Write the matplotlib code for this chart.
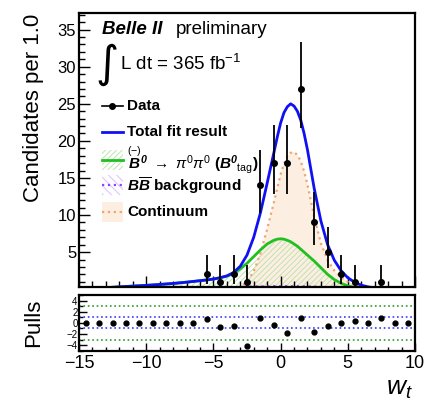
import numpy as np
import matplotlib
matplotlib.use("Agg")
import matplotlib.pyplot as plt
from matplotlib.patches import Rectangle
from matplotlib.ticker import MultipleLocator

plt.rcParams['font.family'] = ['Liberation Sans', 'DejaVu Sans']
plt.rcParams['mathtext.fontset'] = 'custom'
plt.rcParams['mathtext.rm'] = 'Liberation Sans'
plt.rcParams['mathtext.it'] = 'Liberation Sans:italic'
plt.rcParams['mathtext.bf'] = 'Liberation Sans:bold:italic'
plt.rcParams['hatch.linewidth'] = 0.7

# data (non-empty bins only), w_t bin centres
data_x = [-5.5, -4.5, -3.5, -2.5, -1.5, -0.5, 0.5, 1.5, 2.5, 3.5, 4.5, 5.5, 7.5]
data_y = [2, 1, 2, 1, 14, 17, 17, 27, 9, 5, 2, 1, 1]
err_lo = [1.3, 0.8, 1.3, 0.8, 3.7, 4.1, 4.1, 5.2, 3.0, 2.2, 1.3, 0.8, 0.8]
err_hi = [2.6, 2.3, 2.6, 2.3, 4.8, 5.2, 5.2, 6.3, 4.1, 3.4, 2.6, 2.3, 2.3]

# pulls for all 25 bins
pull_x = np.arange(-14.5, 10, 1.0)
pulls = [0, 0, 0, 0, 0, 0, 0, 0, 0, 0.6, -0.7, -0.55, -4.2, 0.95, -0.35,
         -1.9, 0.85, -1.7, -0.55, -0.1, 0.3, 0, 0.85, 0, 0]

# fit components (finer sampling around the peak)
fit_x = [-15, -14.5, -14, -13.5, -13, -12.5, -12, -11.5, -11, -10.5, -10, -9.5,
         -9, -8.5, -8, -7.5, -7, -6.5, -6, -5.5, -5, -4.5, -4, -3.5,
         -3, -2.5, -2, -1.5, -1, -0.5, -0.25, 0, 0.25, 0.5, 0.75, 1, 1.25, 1.5,
         1.75, 2, 2.5, 3, 3.5, 4, 4.5, 5, 5.5, 6, 6.5, 7, 7.5, 8, 8.5, 9, 9.5, 10]
total = [0.12, 0.14, 0.16, 0.19, 0.22, 0.26, 0.32, 0.37, 0.42, 0.47, 0.52, 0.58,
         0.64, 0.71, 0.78, 0.86, 0.95, 1.05, 1.15, 1.25, 1.37, 1.55, 1.8, 2.25,
         3.1, 4.6, 7.0, 10.3, 14.3, 18.4, 20.5, 22.4, 23.8, 24.6, 25.0, 24.7, 24.0, 22.8,
         21.0, 18.8, 13.6, 9.2, 6.0, 3.9, 2.5, 1.55, 0.95, 0.55, 0.32, 0.18, 0.1, 0.05,
         0.03, 0.01, 0.0, 0.0]
signal = [0.12, 0.14, 0.16, 0.19, 0.22, 0.26, 0.32, 0.37, 0.42, 0.47, 0.52, 0.58,
          0.64, 0.71, 0.78, 0.86, 0.95, 1.05, 1.15, 1.25, 1.37, 1.55, 1.75, 2.1,
          2.75, 3.5, 4.4, 5.3, 6.1, 6.6, 6.75, 6.8, 6.75, 6.6, 6.4, 6.1, 5.8, 5.4,
          5.0, 4.6, 3.8, 2.9, 2.0, 1.3, 0.8, 0.45, 0.25, 0.12, 0.06, 0.03, 0.01, 0.0,
          0.0, 0.0, 0.0, 0.0]
bbbar = [0, 0, 0, 0, 0, 0, 0, 0, 0, 0, 0, 0,
         0, 0, 0, 0, 0, 0, 0, 0, 0, 0, 0.1, 0.2,
         0.3, 0.34, 0.37, 0.39, 0.4, 0.41, 0.41, 0.41, 0.41, 0.41, 0.4, 0.4, 0.4, 0.39,
         0.38, 0.37, 0.34, 0.3, 0.22, 0.12, 0.05, 0, 0, 0, 0, 0, 0, 0,
         0, 0, 0, 0]
continuum = [0, 0, 0, 0, 0, 0, 0, 0, 0, 0, 0, 0,
             0, 0, 0, 0, 0, 0, 0, 0, 0, 0, 0.03, 0.15,
             0.35, 1.0, 2.4, 4.8, 8.1, 11.7, 13.6, 15.5, 16.9, 17.9, 18.4, 18.5, 18.1, 17.3,
             15.9, 14.1, 9.8, 6.2, 3.9, 2.5, 1.6, 1.0, 0.65, 0.4, 0.25, 0.14, 0.08, 0.04,
             0.02, 0.01, 0, 0]

blue = '#1010f5'
green = '#1fc01f'
orange = '#f5a46a'
purple = '#9a3dff'
sig_hatch = '#bfe3b0'
bb_hatch = '#d8c0ff'
cont_fill = '#fdeee2'

fig = plt.figure(figsize=(4.33, 4.04), dpi=100)
ax = fig.add_axes([0.1824, 0.2896, 0.776, 0.6774])
axp = fig.add_axes([0.1824, 0.132, 0.776, 0.1378])

# main panel
ax.fill_between(fit_x, 0, continuum, facecolor=cont_fill, lw=0)
ax.fill_between(fit_x, 0, signal, facecolor='none', edgecolor=sig_hatch, hatch='//////', lw=0)
ax.fill_between(fit_x, 0, bbbar, facecolor='none', edgecolor=bb_hatch, hatch='\\\\\\\\', lw=0)
ax.plot(fit_x, continuum, color=orange, ls=':', lw=1.6)
ax.plot(fit_x, bbbar, color=purple, ls=':', lw=1.6)
ax.plot(fit_x, signal, color=green, lw=2)
ax.plot(fit_x, total, color=blue, lw=2)
ax.errorbar(data_x, data_y, yerr=[err_lo, err_hi], fmt='o', color='k', ms=4,
            elinewidth=1.3, capsize=0)

ax.set_xlim(-15, 10)
ax.set_ylim(0.3, 37.2)
ax.xaxis.set_major_locator(MultipleLocator(5))
ax.xaxis.set_minor_locator(MultipleLocator(1))
ax.yaxis.set_minor_locator(MultipleLocator(1))
ax.set_yticks([5, 10, 15, 20, 25, 30, 35])
ax.tick_params(which='both', direction='in', labelbottom=False, labelsize=12, pad=2)
ax.tick_params(which='major', length=8, width=1)
ax.tick_params(which='minor', length=4, width=1)
for s in ax.spines.values():
    s.set_linewidth(1.6)
ax.set_ylabel('Candidates per 1.0', fontsize=16, loc='top')
ax.yaxis.set_label_coords(-0.105, 1)

ax.text(0.068, 0.94, 'Belle II', transform=ax.transAxes, fontsize=13.5,
        fontweight='bold', fontstyle='italic', va='center')
ax.text(0.288, 0.94, 'preliminary', transform=ax.transAxes, fontsize=13.5, va='center')
ax.text(0.048, 0.812, '\u222b', transform=ax.transAxes, fontsize=32, va='center',
        family='DejaVu Sans')
ax.text(0.122, 0.815, 'L dt = 365 fb$^{-1}$', transform=ax.transAxes,
        fontsize=13.5, va='center')

# legend, ROOT-like fixed row spacing
rows = [0.661, 0.566, 0.464, 0.372, 0.274]
labels = ['Data', 'Total fit result',
          r'$\overset{(-)}{\mathbf{B}}{}^{\mathbf{0}}$ $\rightarrow$ $\pi^{0}\pi^{0}$ ($\mathbf{B}^{\mathbf{0}}{}_{\rm tag}$)',
          r'$\mathbf{B}\overline{\mathbf{B}}$ background', 'Continuum']
hx0, hx1, box_h = 0.068, 0.131, 0.073
tr = ax.transAxes
ax.add_patch(Rectangle((hx0, rows[2] - box_h / 2), hx1 - hx0, box_h, transform=tr,
                       facecolor='none', edgecolor=sig_hatch, hatch='//////', lw=0))
ax.add_patch(Rectangle((hx0, rows[3] - box_h / 2), hx1 - hx0, box_h, transform=tr,
                       facecolor='none', edgecolor=bb_hatch, hatch='\\\\\\\\', lw=0))
ax.add_patch(Rectangle((hx0, rows[4] - box_h / 2), hx1 - hx0, box_h, transform=tr,
                       facecolor=cont_fill, lw=0))
ax.plot([hx0, hx1], [rows[0]] * 2, color='k', lw=1.2, transform=tr)
ax.plot([(hx0 + hx1) / 2], [rows[0]], 'o', color='k', ms=4, transform=tr)
ax.plot([hx0, hx1], [rows[1]] * 2, color=blue, lw=2, transform=tr)
ax.plot([hx0, hx1], [rows[2]] * 2, color=green, lw=2, transform=tr)
ax.plot([hx0, hx1], [rows[3]] * 2, color=purple, ls=':', lw=1.6, transform=tr)
ax.plot([hx0, hx1], [rows[4]] * 2, color=orange, ls=':', lw=1.6, transform=tr)
for yy, lab in zip(rows, labels):
    ax.text(0.143, yy, lab, transform=tr, fontsize=11, fontweight='bold', va='center')

# pull panel
axp.axhline(3, color='#2e9a2e', ls=':', lw=1.2)
axp.axhline(-3, color='#2e9a2e', ls=':', lw=1.2)
axp.axhline(1, color='#3a3aff', ls=':', lw=1.2)
axp.axhline(-1, color='#3a3aff', ls=':', lw=1.2)
axp.plot(pull_x, pulls, 'o', color='k', ms=3.5)
axp.set_xlim(-15, 10)
axp.set_ylim(-5, 5)
axp.xaxis.set_major_locator(MultipleLocator(5))
axp.xaxis.set_minor_locator(MultipleLocator(1))
axp.set_yticks([-4, -2, 0, 2, 4])
axp.yaxis.set_minor_locator(MultipleLocator(1))
axp.tick_params(which='both', direction='in')
axp.tick_params(axis='x', labelsize=13, pad=3)
axp.tick_params(axis='y', labelsize=7, pad=1)
axp.tick_params(which='major', length=6, width=1)
axp.tick_params(which='minor', length=3, width=1)
for s in axp.spines.values():
    s.set_linewidth(1.6)
axp.set_ylabel('Pulls', fontsize=16)
axp.yaxis.set_label_coords(-0.105, 0.5)
axp.text(0.995, -0.47, '$w_t$', transform=axp.transAxes, fontsize=19,
         ha='right', va='top')

fig.savefig('out.png', dpi=100)
